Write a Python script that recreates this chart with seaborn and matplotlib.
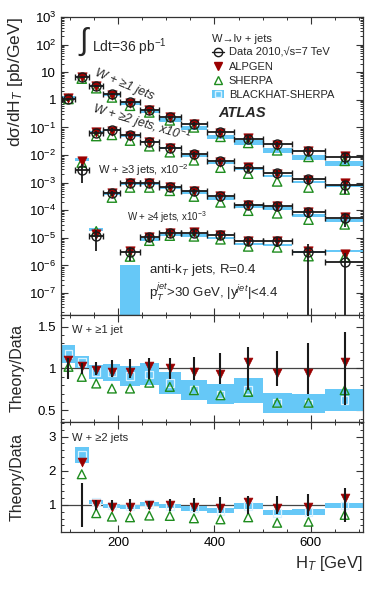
import numpy as np
import pandas as pd
import matplotlib
matplotlib.use("Agg")
import matplotlib.pyplot as plt
import seaborn as sns
from matplotlib.lines import Line2D
from matplotlib.patches import Patch
from matplotlib.ticker import MultipleLocator, LogLocator, NullFormatter

# HT bins [GeV]
ht_edges = np.array([85, 110, 140, 170, 205, 245, 285, 330, 385, 440, 500, 560, 630, 710])
nan = np.nan

# measured cross sections dsigma/dHT [pb/GeV] (unscaled)
data_ge1 = [1.05, 6.5, 3.2, 1.6, 0.8, 0.42, 0.23, 0.135, 0.067, 0.038, 0.025, 0.0145, 0.0083]
data_ge2 = [nan, 0.028, 0.64, 0.81, 0.52, 0.30, 0.185, 0.105, 0.06, 0.033, 0.023, 0.013, 0.0079]
data_ge3 = [nan, nan, 1.15e-3, 0.041, 0.095, 0.095, 0.072, 0.048, 0.032, 0.016, 0.014, 0.0083, 0.0051]
data_ge4 = [nan, nan, nan, nan, 3.0e-3, 0.0105, 0.015, 0.015, 0.0126, 0.0075, 0.0075, 0.0031, 0.00135]

# relative data uncertainties
err_ge1 = [0.12, 0.07, 0.08, 0.10, 0.11, 0.13, 0.12, 0.14, 0.19, 0.26, 0.21, 0.31, 0.44]
err_ge2 = [nan, 0.64, 0.15, 0.15, 0.17, 0.12, 0.17, 0.20, 0.22, 0.25, 0.25, 0.33, 0.50]
err_ge3 = [nan, nan, 0.70, 0.20, 0.15, 0.15, 0.15, 0.20, 0.20, 0.25, 0.30, 0.35, 0.50]
err_ge4 = [nan, nan, nan, nan, 0.50, 0.30, 0.25, 0.25, 0.30, 0.35, 0.40, 1.00, 1.10]

# theory / data
alp_ge1 = [1.10, 1.03, 0.98, 0.96, 0.96, 1.03, 1.01, 0.96, 0.93, 1.08, 0.95, 0.95, 1.08]
she_ge1 = [1.02, 0.90, 0.82, 0.76, 0.76, 0.83, 0.78, 0.74, 0.68, 0.72, 0.59, 0.59, 0.74]
bh_ge1 = [1.17, 1.08, 0.96, 0.95, 0.91, 0.93, 0.83, 0.74, 0.69, 0.74, 0.59, 0.58, 0.62]
bhw_ge1 = [0.11, 0.07, 0.08, 0.10, 0.12, 0.13, 0.13, 0.12, 0.12, 0.15, 0.12, 0.11, 0.13]

alp_ge2 = [nan, 2.25, 1.03, 0.93, 0.93, 1.00, 1.00, 0.93, 0.90, 1.10, 0.90, 0.93, 1.20]
she_ge2 = [nan, 1.90, 0.76, 0.66, 0.64, 0.69, 0.68, 0.61, 0.58, 0.64, 0.48, 0.51, 0.71]
bh_ge2 = [nan, 2.46, 1.10, 0.98, 0.95, 1.03, 0.97, 0.90, 0.83, 0.97, 0.77, 0.80, 0.98]
bhw_ge2 = [nan, 0.24, 0.06, 0.06, 0.06, 0.07, 0.07, 0.07, 0.07, 0.08, 0.07, 0.08, 0.08]

alp_ge3 = [nan, nan, 1.20, 1.00, 1.00, 1.00, 1.00, 1.00, 1.05, 1.00, 1.00, 1.00, 1.10]
she_ge3 = [nan, nan, 1.50, 0.70, 0.70, 0.70, 0.70, 0.65, 0.60, 0.60, 0.55, 0.55, 0.60]
bh_ge3 = [nan, nan, 1.80, 1.00, 0.95, 0.95, 0.90, 0.90, 0.85, 0.85, 0.80, 0.80, 0.85]
bhw_ge3 = [nan, nan, 0.20, 0.10, 0.10, 0.10, 0.10, 0.10, 0.10, 0.10, 0.10, 0.10, 0.10]

alp_ge4 = [nan, nan, nan, nan, 1.10, 1.00, 1.00, 1.05, 1.00, 1.05, 1.00, 1.10, 1.90]
she_ge4 = [nan, nan, nan, nan, 0.70, 0.75, 0.80, 0.75, 0.70, 0.65, 0.60, 0.70, 1.50]
bh_ge4 = [nan, nan, nan, nan, 0.18, 0.85, 0.85, 0.80, 0.80, 0.80, 0.75, 1.00, 2.50]
bhw_ge4 = [nan, nan, nan, nan, 0.18, 0.09, 0.09, 0.08, 0.08, 0.08, 0.08, 0.10, 0.25]

scales = [1.0, 1e-1, 1e-2, 1e-3]

BLUE = "#66c8f7"
RED = "#9b0000"
GREEN = "#1e8c1e"

sns.set_theme(style="ticks")
plt.rcParams["font.family"] = ["Liberation Sans", "DejaVu Sans"]
plt.rcParams["mathtext.fontset"] = "custom"
plt.rcParams["mathtext.rm"] = "Liberation Sans"
plt.rcParams["mathtext.it"] = "Liberation Sans:italic"
plt.rcParams["axes.edgecolor"] = "#333333"
plt.rcParams["axes.linewidth"] = 0.9
for a in ["x", "y"]:
    plt.rcParams[a + "tick.direction"] = "in"
    plt.rcParams[a + "tick.major.size"] = 5
    plt.rcParams[a + "tick.minor.size"] = 2.5
    plt.rcParams[a + "tick.major.width"] = 0.8
    plt.rcParams[a + "tick.minor.width"] = 0.7

centers = 0.5 * (ht_edges[:-1] + ht_edges[1:])
widths = np.diff(ht_edges)

fig = plt.figure(figsize=(3.82, 5.92), dpi=100)
ax = fig.add_axes([0.1597, 0.4679, 0.7906, 0.5034])
ax1 = fig.add_axes([0.1597, 0.2872, 0.7906, 0.1807], sharex=ax)
ax2 = fig.add_axes([0.1597, 0.1014, 0.7906, 0.1858], sharex=ax)

ax.set_yscale("log")
ax.set_ylim(1.6e-8, 1e3)
ax.set_xlim(82, 708)

series = [
    (data_ge1, err_ge1, alp_ge1, she_ge1, bh_ge1, bhw_ge1),
    (data_ge2, err_ge2, alp_ge2, she_ge2, bh_ge2, bhw_ge2),
    (data_ge3, err_ge3, alp_ge3, she_ge3, bh_ge3, bhw_ge3),
    (data_ge4, err_ge4, alp_ge4, she_ge4, bh_ge4, bhw_ge4),
]

floor = 1e-10
for (d, e, alp, she, bh, bhw), sc in zip(series, scales):
    d = np.array(d) * sc
    e = np.array(e)
    alp, she, bh, bhw = map(np.array, (alp, she, bh, bhw))
    ok = ~np.isnan(d)
    lo = np.maximum(d * (bh - bhw), floor)
    hi = d * (bh + bhw)
    ax.bar(centers[ok], (hi - lo)[ok], bottom=lo[ok], width=widths[ok],
           color=BLUE, linewidth=0, zorder=1)
    sns.scatterplot(x=centers[ok], y=(d * she)[ok], marker="^", s=45,
                    facecolor="none", edgecolor=GREEN, linewidth=1.0, ax=ax, zorder=2)
    sns.scatterplot(x=centers[ok], y=(d * alp)[ok], marker="v", s=45,
                    color=RED, edgecolor=RED, linewidth=0.5, ax=ax, zorder=3)
    ylo = np.minimum(d * e, d - floor)
    ax.errorbar(centers[ok], d[ok], yerr=[ylo[ok], (d * e)[ok]], fmt="none",
                ecolor="k", elinewidth=1.3, zorder=4)
    ax.errorbar(centers[ok], d[ok], xerr=widths[ok] / 2, fmt="o", ms=6.5,
                mfc="none", mec="k", mew=1.0, ecolor="k", elinewidth=1.3,
                capsize=2, capthick=1.0, zorder=5)

# ratio panels
for rax, (d, e, alp, she, bh, bhw) in zip([ax1, ax2], series[:2]):
    d = np.array(d)
    e = np.array(e)
    alp, she, bh, bhw = map(np.array, (alp, she, bh, bhw))
    ok = ~np.isnan(d)
    rax.axhline(1.0, color="#444444", lw=0.9, zorder=0)
    rax.bar(centers[ok], (2 * bhw)[ok], bottom=(bh - bhw)[ok], width=widths[ok],
            color=BLUE, linewidth=0, zorder=1)
    sns.scatterplot(x=centers[ok], y=bh[ok], marker="s", s=30, facecolor="none",
                    edgecolor="#d8f2ff", linewidth=0.9, ax=rax, zorder=2)
    sns.scatterplot(x=centers[ok], y=she[ok], marker="^", s=40, facecolor="none",
                    edgecolor=GREEN, linewidth=1.0, ax=rax, zorder=3)
    sns.scatterplot(x=centers[ok], y=alp[ok], marker="v", s=40, color=RED,
                    edgecolor=RED, linewidth=0.5, ax=rax, zorder=4)
    rax.errorbar(centers[ok], np.ones(ok.sum()), yerr=e[ok], fmt="none",
                 ecolor="k", elinewidth=1.5, zorder=5)

# axis cosmetics
ax.set_yticks([10.0 ** k for k in range(-7, 4)])
ax.set_yticklabels(["10$^{-7}$", "10$^{-6}$", "10$^{-5}$", "10$^{-4}$", "10$^{-3}$",
                    "10$^{-2}$", "10$^{-1}$", "1", "10", "10$^{2}$", "10$^{3}$"])
ax.yaxis.set_minor_locator(LogLocator(base=10, subs=np.arange(2, 10), numticks=50))
ax.yaxis.set_minor_formatter(NullFormatter())

ax1.set_ylim(0.36, 1.64)
ax1.set_yticks([0.5, 1.0, 1.5])
ax1.set_yticklabels(["0.5", "1", "1.5"])
ax1.yaxis.set_minor_locator(MultipleLocator(0.1))

ax2.set_ylim(0.21, 3.43)
ax2.set_yticks([1, 2, 3])
ax2.yaxis.set_minor_locator(MultipleLocator(0.2))

ax2.set_xticks([200, 400, 600])
ax2.xaxis.set_minor_locator(MultipleLocator(50))

for a in [ax, ax1, ax2]:
    a.tick_params(which="both", top=True, right=True, labelsize=9.5, colors="#333333",
                  labelcolor="black")
    a.set_xlabel("")
    a.set_ylabel("")
ax.tick_params(labelbottom=False)
ax1.tick_params(labelbottom=False)

ax.set_ylabel("dσ/dH$_T$ [pb/GeV]", fontsize=12.5, loc="top")
ax.yaxis.set_label_coords(-0.12, 1.0)
ax1.set_ylabel("Theory/Data", fontsize=11.5)
ax1.yaxis.set_label_coords(-0.12, 0.5)
ax2.set_ylabel("Theory/Data", fontsize=11.5)
ax2.yaxis.set_label_coords(-0.12, 0.5)
ax2.set_xlabel("H$_T$ [GeV]", fontsize=12, loc="right")

# annotations
ax.text(0.076, 0.916, "∫", transform=ax.transAxes, fontsize=22, ha="center", va="center")
ax.text(0.103, 0.9, "Ldt=36 pb$^{-1}$", transform=ax.transAxes, fontsize=10, va="center")
ax.text(0.52, 0.678, "ATLAS", transform=ax.transAxes, fontsize=10.5, fontweight="bold",
        fontstyle="italic", va="center")
ax.text(0.209, 0.772, "W + ≥1 jets", transform=ax.transAxes, fontsize=9, style="italic",
        rotation=-23, ha="center", va="center", rotation_mode="anchor")
ax.text(0.265, 0.644, "W + ≥2 jets, x10$^{-1}$", transform=ax.transAxes, fontsize=9,
        style="italic", rotation=-17, ha="center", va="center", rotation_mode="anchor")
ax.text(0.1225, 0.487, "W + ≥3 jets, x10$^{-2}$", transform=ax.transAxes, fontsize=8,
        va="center")
ax.text(0.2185, 0.329, "W + ≥4 jets, x10$^{-3}$", transform=ax.transAxes, fontsize=7,
        va="center")
ax.text(0.291, 0.151, "anti-k$_T$ jets, R=0.4", transform=ax.transAxes, fontsize=9.5,
        va="center")
ax.text(0.291, 0.077, "p$_T^{jet}$>30 GeV, |y$^{jet}$|<4.4", transform=ax.transAxes,
        fontsize=9.5, va="center")
ax1.text(0.036, 0.86, "W + ≥1 jet", transform=ax1.transAxes, fontsize=8, va="center")
ax2.text(0.036, 0.855, "W + ≥2 jets", transform=ax2.transAxes, fontsize=8, va="center")

handles = [
    Line2D([], [], color="k", marker="o", mfc="none", mec="k", ls="-", lw=1.0, ms=6),
    Line2D([], [], color=RED, marker="v", ls="none", ms=6),
    Line2D([], [], color=GREEN, marker="^", mfc="none", ls="none", ms=6),
    (Patch(facecolor=BLUE, edgecolor="none"),
     Line2D([], [], marker="s", mfc="none", mec="#d8f2ff", ls="none", ms=4)),
]
labels = ["Data 2010,√s=7 TeV", "ALPGEN", "SHERPA", "BLACKHAT-SHERPA"]
leg = ax.legend(handles, labels, title="W→lν + jets", loc="upper left",
                bbox_to_anchor=(0.475, 0.97), frameon=False, fontsize=8,
                title_fontsize=8, handlelength=1.1, handletextpad=0.4,
                labelspacing=0.35, borderpad=0.2, alignment="left")

fig.savefig("out.png", dpi=100)
